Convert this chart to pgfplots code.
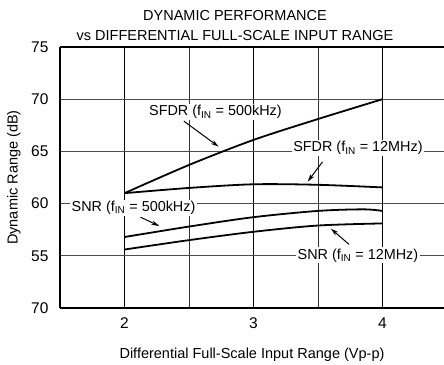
\documentclass[border=0pt]{standalone}
\usepackage{pgfplots}
\pgfplotsset{compat=1.18}
\usepackage{fontspec}
\setmainfont{Liberation Sans}
\usetikzlibrary{arrows.meta,calc}

\begin{document}
\begin{tikzpicture}
\begin{axis}[
    scale only axis,
    width=384pt, height=261pt,
    xmin=1.5, xmax=4.477,
    ymin=50, ymax=75,
    axis y line*=left,
    axis line style={line width=1.8pt},
    xtick={2,3,4},
    minor xtick={2.5,3.5},
    ytick={50,55,60,65,70,75},
    yticklabels={70,55,60,65,70,75},
    major tick length=0pt, minor tick length=0pt,
    xmajorgrids=true, xminorgrids=true, ymajorgrids=true,
    major x grid style={black, line width=1.2pt},
    minor x grid style={black!80, line width=0.6pt},
    major y grid style={black!70, line width=0.8pt},
    tick label style={font=\fontsize{15.5}{18}\selectfont},
    /pgf/number format/assume math mode=true,
    yticklabel style={xshift=-8pt},
    xticklabel style={yshift=-6pt},
    xlabel={Differential Full-Scale Input Range (Vp-p)},
    ylabel={Dynamic Range (dB)},
    every axis x label/.style={at={(axis description cs:0.5,0)}, anchor=center, yshift=-47pt, font=\fontsize{14.5}{17}\selectfont},
    every axis y label/.style={at={(axis description cs:0,0.5)}, anchor=center, xshift=-46pt, rotate=90, font=\fontsize{14.5}{17}\selectfont},
    title={DYNAMIC PERFORMANCE\\[2.5pt]vs DIFFERENTIAL FULL-SCALE INPUT RANGE},
    title style={font=\fontsize{14.5}{18}\selectfont, align=center, at={(axis description cs:0.4557,1)}, anchor=south, yshift=-3.5pt},
    clip=false,
]
\coordinate (bl) at (rel axis cs:0,0);
\coordinate (tr) at (rel axis cs:1,1);

% SFDR, f_IN = 500kHz
\addplot[black, line width=1.8pt, smooth] coordinates {
    (2,61.0)(2.5,63.7)(3,66.1)(3.5,68.1)(4,70.0)};
% SFDR, f_IN = 12MHz
\addplot[black, line width=1.8pt, smooth] coordinates {
    (2,61.0)(2.5,61.5)(3,61.85)(3.5,61.8)(4,61.55)};
% SNR, f_IN = 500kHz
\addplot[black, line width=1.8pt, smooth] coordinates {
    (2,56.8)(2.5,57.8)(3,58.7)(3.5,59.3)(3.85,59.45)(4,59.3)};
% SNR, f_IN = 12MHz
\addplot[black, line width=1.8pt, smooth] coordinates {
    (2,55.6)(2.5,56.5)(3,57.3)(3.5,57.9)(4,58.1)};

\tikzset{lbl/.style={fill=white, inner sep=1.5pt, font=\fontsize{14.4}{17}\selectfont},
         arr/.style={-{Stealth[length=8pt,width=4.5pt]}, line width=1pt}}
\draw[arr] (axis cs:2.46,67.9) -- (axis cs:2.73,65.45);
\node[lbl] at (axis cs:2.705,68.76) {SFDR (f\textsubscript{IN} = 500kHz)};
\draw[arr] (axis cs:3.535,64.0) -- (axis cs:3.42,62.1);
\node[lbl] at (axis cs:3.81,65.3) {SFDR (f\textsubscript{IN} = 12MHz)};
\draw[arr] (axis cs:2.124,58.7) -- (axis cs:2.27,57.85);
\node[lbl] at (axis cs:2.07,59.6) {SNR (f\textsubscript{IN} = 500kHz)};
\draw[arr] (axis cs:3.74,56.1) -- (axis cs:3.6,57.6);
\node[lbl] at (axis cs:3.81,55.05) {SNR (f\textsubscript{IN} = 12MHz)};
\end{axis}
\pgfresetboundingbox
\path ($(bl)+(-60pt,-56pt)$) rectangle ($(tr)+(0pt,47pt)$);
\end{tikzpicture}
\end{document}
